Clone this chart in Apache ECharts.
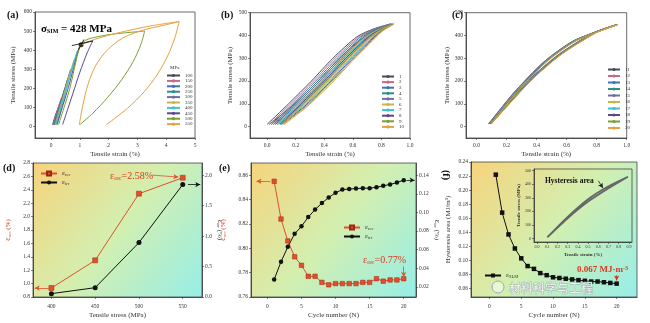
<!DOCTYPE html>
<html><head><meta charset="utf-8">
<script src="https://cdn.jsdelivr.net/npm/echarts@6/dist/echarts.min.js"></script>
<style>html,body{margin:0;padding:0;background:#fff}#c{width:650px;height:323px}</style>
</head><body><div id="c"></div><script>
// ---------- tick labels ----------
const aTicksX=[0,1,2,3,4,5];
const aTicksY=[0,100,200,300,400,500,600];
const bcTicksX=[0,0.2,0.4,0.6,0.8,1.0];
const bcTicksY=[0,100,200,300,400,500];
const dTicksX=[400,450,500,550];
const dTicksYL=[0.8,1.0,1.2,1.4,1.6,1.8,2.0,2.2,2.4,2.6,2.8];
const dTicksYR=[0,0.5,1.0,1.5,2.0];
const eTicksX=[0,5,10,15,20];
const eTicksYL=[0.76,0.78,0.80,0.82,0.84,0.86];
const eTicksYR=[0.02,0.04,0.06,0.08,0.10,0.12,0.14];
const fTicksX=[0,5,10,15,20];
const fTicksY=[0.06,0.08,0.10,0.12,0.14,0.16,0.18,0.20,0.22,0.24];
const inTicksX=[0,0.1,0.2,0.3,0.4,0.5,0.6,0.7,0.8,0.9];
const inTicksY=[0,100,200,300,400,500];

// ---------- (a) loops: [strain %, stress MPa] ----------
const aNames=['100','150','200','250','300','350','400','450','500','550'];
const a100=[[0.05,10],[0.14,55],[0.25,100],[0.16,60],[0.07,10]];
const a150=[[0.07,10],[0.22,85],[0.36,150],[0.25,100],[0.10,10]];
const a200=[[0.09,10],[0.30,110],[0.48,200],[0.33,130],[0.12,10]];
const a250=[[0.10,10],[0.35,130],[0.58,250],[0.40,160],[0.14,10]];
const a300=[[0.12,10],[0.42,160],[0.68,300],[0.48,200],[0.16,10]];
const a350=[[0.14,10],[0.48,185],[0.80,350],[0.58,240],[0.19,10]];
const a400=[[0.16,10],[0.55,210],[0.92,400],[0.70,290],[0.22,10]];
const a450=[[0.20,10],[0.60,205],[0.98,415],[1.10,435],[1.45,450],[1.25,385],[1.00,285],[0.75,170],[0.52,65],[0.40,10]];
const a500=[[0.26,10],[0.65,200],[1.00,420],[1.20,452],[1.60,470],[2.20,485],[3.25,500],[3.12,430],[2.85,340],[2.45,245],[1.95,150],[1.45,70],[1.00,10]];
const a550=[[0.98,10],[1.10,110],[1.28,220],[1.55,320],[1.95,400],[2.50,465],[3.20,505],[3.90,530],[4.45,550],[4.30,465],[4.05,370],[3.70,275],[3.25,185],[2.65,95],[1.92,10]];
const a550b=[[1.05,428],[1.50,456],[2.10,482],[2.75,505],[3.50,528],[4.45,550]];
const aSimDot=[[1.04,428]];

// ---------- (b) cycles 1-10 ----------
const bNames=['1','2','3','4','5','6','7','8','9','10'];
const b1=[[0,10],[0.15,100],[0.31,200],[0.46,300],[0.63,395],[0.75,430],[0.86,450],[0.74,418],[0.62,365],[0.49,290],[0.34,190],[0.17,88],[0.015,10]];
const b2=[[0.015,10],[0.165,100],[0.325,200],[0.475,300],[0.644,395],[0.759,430],[0.864,450],[0.749,418],[0.634,365],[0.505,290],[0.355,190],[0.185,88],[0.03,10]];
const b3=[[0.03,10],[0.18,100],[0.34,200],[0.49,300],[0.657,395],[0.768,430],[0.867,450],[0.758,418],[0.647,365],[0.52,290],[0.37,190],[0.2,88],[0.045,10]];
const b4=[[0.045,10],[0.195,100],[0.355,200],[0.505,300],[0.67,395],[0.777,430],[0.87,450],[0.767,418],[0.66,365],[0.535,290],[0.385,190],[0.215,88],[0.058,10]];
const b5=[[0.058,10],[0.208,100],[0.368,200],[0.518,300],[0.682,395],[0.785,430],[0.873,450],[0.775,418],[0.672,365],[0.548,290],[0.398,190],[0.228,88],[0.07,10]];
const b6=[[0.07,10],[0.22,100],[0.38,200],[0.53,300],[0.693,395],[0.792,430],[0.876,450],[0.782,418],[0.683,365],[0.56,290],[0.41,190],[0.24,88],[0.08,10]];
const b7=[[0.08,10],[0.23,100],[0.39,200],[0.54,300],[0.702,395],[0.798,430],[0.879,450],[0.788,418],[0.692,365],[0.57,290],[0.42,190],[0.25,88],[0.09,10]];
const b8=[[0.09,10],[0.24,100],[0.4,200],[0.55,300],[0.711,395],[0.804,430],[0.882,450],[0.794,418],[0.701,365],[0.58,290],[0.43,190],[0.26,88],[0.1,10]];
const b9=[[0.1,10],[0.25,100],[0.41,200],[0.56,300],[0.72,395],[0.81,430],[0.885,450],[0.8,418],[0.71,365],[0.59,290],[0.44,190],[0.27,88],[0.11,10]];
const b10=[[0.11,10],[0.26,100],[0.42,200],[0.57,300],[0.729,395],[0.816,430],[0.888,450],[0.806,418],[0.719,365],[0.6,290],[0.45,190],[0.28,88],[0.12,10]];

// ---------- (c) cycles 11-20 ----------
const cNames=['11','12','13','14','15','16','17','18','19','20'];
const c11=[[0.080,12],[0.25,150],[0.45,285],[0.65,378],[0.930,447],[0.78,412],[0.55,318],[0.35,205],[0.082,12]];
const c12=[[0.082,12],[0.252,150],[0.452,285],[0.652,378],[0.931,447],[0.782,412],[0.552,318],[0.352,205],[0.084,12]];
const c13=[[0.084,12],[0.254,150],[0.454,285],[0.654,378],[0.932,447],[0.784,412],[0.554,318],[0.354,205],[0.086,12]];
const c14=[[0.086,12],[0.256,150],[0.456,285],[0.656,378],[0.933,447],[0.786,412],[0.556,318],[0.356,205],[0.088,12]];
const c15=[[0.088,12],[0.258,150],[0.458,285],[0.658,378],[0.934,447],[0.788,412],[0.558,318],[0.358,205],[0.090,12]];
const c16=[[0.090,12],[0.260,150],[0.460,285],[0.660,378],[0.935,447],[0.790,412],[0.560,318],[0.360,205],[0.092,12]];
const c17=[[0.092,12],[0.262,150],[0.462,285],[0.662,378],[0.936,447],[0.792,412],[0.562,318],[0.362,205],[0.094,12]];
const c18=[[0.094,12],[0.264,150],[0.464,285],[0.664,378],[0.937,447],[0.794,412],[0.564,318],[0.364,205],[0.096,12]];
const c19=[[0.096,12],[0.266,150],[0.466,285],[0.666,378],[0.938,447],[0.796,412],[0.566,318],[0.366,205],[0.098,12]];
const c20=[[0.098,12],[0.268,150],[0.468,285],[0.668,378],[0.939,447],[0.798,412],[0.568,318],[0.368,205],[0.100,12]];

// ---------- (d) ----------
const dStress=[400,450,500,550];
const dRec=[0.934,1.347,2.342,2.58];
const dIrr=[0.055,0.153,0.893,1.846];
// ---------- (e) ----------
const eCycle=[1,2,3,4,5,6,7,8,9,10,11,12,13,14,15,16,17,18,19,20];
const eRec=[0.855,0.824,0.806,0.793,0.786,0.777,0.777,0.772,0.770,0.771,0.771,0.771,0.771,0.772,0.772,0.775,0.773,0.774,0.774,0.775];
const eIrr=[0.028,0.047,0.063,0.077,0.085,0.095,0.103,0.110,0.116,0.121,0.1245,0.125,0.1256,0.126,0.126,0.127,0.1285,0.130,0.132,0.1346];
// ---------- (f) ----------
const fCycle=[1,2,3,4,5,6,7,8,9,10,11,12,13,14,15,16,17,18,19,20];
const fArea=[0.222,0.168,0.137,0.117,0.103,0.092,0.088,0.082,0.079,0.076,0.075,0.074,0.073,0.072,0.071,0.070,0.070,0.069,0.068,0.067];
const insetLoop=[[0.10,10],[0.30,160],[0.50,290],[0.70,385],[0.89,455],[0.70,370],[0.50,272],[0.30,150],[0.10,10]];

const F='Liberation Serif';
const pal=['#4a4a5c','#c86a84','#4272b4','#2f8f80','#70709e','#c9b446','#3cc2d2','#5a4892','#78a032','#e8a040'];
const ink='#333';
const grad={type:'linear',x:0,y:0,x2:1,y2:1,colorStops:[{offset:0,color:'#f7d37c'},{offset:0.5,color:'#d3efb0'},{offset:1,color:'#96eee8'}]};
const fx1=v=>v.toFixed(1), fx2=v=>v.toFixed(2), fx0=v=>String(v);
const zip=(a,b)=>a.map((v,i)=>[v,b[i]]);

function ax(o){
  return {
    type:'value', gridIndex:o.g, min:o.min, max:o.max, position:o.pos,
    axisLine:{show:true,onZero:false,lineStyle:{color:ink,width:0.8}},
    axisTick:{show:true,customValues:o.ticks,length:2,lineStyle:{color:ink,width:0.6}},
    axisLabel:{show:true,customValues:o.ticks,formatter:o.fmt||fx0,fontSize:o.fs||5.5,fontFamily:F,color:ink,margin:o.margin==null?3:o.margin},
    splitLine:{show:false},
    name:o.name||'', nameLocation:'middle', nameGap:o.gap||10, nameRotate:o.rot,
    nameTextStyle:{fontSize:o.nfs||7,fontFamily:F,color:o.ncol||ink,fontWeight:o.nbold?'bold':'normal',
      rich:{e:{fontSize:8,fontFamily:F,color:o.ncol||ink},s:{fontSize:5,fontFamily:F,color:o.ncol||ink,verticalAlign:'bottom'},t:{fontSize:7,fontFamily:F,color:o.ncol||ink}}}
  };
}

const grids=[
  {left:35,top:12,width:160,height:126},
  {left:250,top:12.7,width:160,height:125.3},
  {left:466,top:12.7,width:160.7,height:125.3},
  {left:33,top:163,width:169,height:134},
  {left:251,top:163,width:165,height:134},
  {left:471,top:162,width:166,height:135},
  {left:534,top:169,width:98,height:73}
].map((g,i)=>Object.assign({show:true,borderColor:'#444',borderWidth:0.8,backgroundColor:(i>=3&&i<=5)?grad:'transparent'},g));

const xAxes=[
  ax({g:0,min:-0.56,max:5,ticks:aTicksX,name:'Tensile strain (%)',gap:13,margin:5}),
  ax({g:1,min:-0.12,max:1.0,ticks:bcTicksX,fmt:fx1,name:'Tensile strain (%)',gap:13,margin:5}),
  ax({g:2,min:-0.07,max:1.0,ticks:bcTicksX,fmt:fx1,name:'Tensile strain (%)',gap:13,margin:5}),
  ax({g:3,min:379,max:572,ticks:dTicksX,name:'Tensile stress (MPa)',gap:15,margin:7}),
  ax({g:4,min:-2.4,max:21.8,ticks:eTicksX,name:'Cycle number (N)',gap:15,margin:7}),
  ax({g:5,min:-2.9,max:23.2,ticks:fTicksX,name:'Cycle number (N)',gap:15,margin:7}),
  ax({g:6,min:-0.03,max:0.93,ticks:inTicksX,fmt:fx1,fs:4,name:'Tensile strain (%)',nfs:5,nbold:true,gap:10,margin:3})
];
const yAxes=[
  ax({g:0,min:-60,max:600,ticks:aTicksY,name:'Tensile stress (MPa)',gap:18}),
  ax({g:1,min:-50,max:500,ticks:bcTicksY,name:'Tensile stress (MPa)',gap:16}),
  ax({g:2,min:-50,max:500,ticks:bcTicksY,name:'Tensile stress (MPa)',gap:14}),
  ax({g:3,min:0.8,max:2.8,ticks:dTicksYL,fmt:fx1,name:'{e|ε}{s|rec}{t| (%)}',ncol:'#d04020',gap:21}),
  ax({g:3,min:0,max:2.2,ticks:dTicksYR,fmt:fx1,pos:'right',name:'{e|ε}{s|irr}{t| (%)}',rot:-90,gap:10}),
  ax({g:4,min:0.76,max:0.87,ticks:eTicksYL,fmt:fx2,name:'{e|ε}{s|rec}{t| (%)}',ncol:'#d04020',gap:24}),
  ax({g:4,min:0.0092,max:0.153,ticks:eTicksYR,fmt:fx2,pos:'right',name:'{e|ε}{s|irr}{t| (%)}',rot:-90,gap:17}),
  ax({g:5,min:0.048,max:0.24,ticks:fTicksY,fmt:fx2,name:'Hysteresis area (MJ/m³)',gap:19}),
  ax({g:6,min:-25,max:512,ticks:inTicksY,fs:4,name:'Tensile stress (MPa)',nfs:5,nbold:true,gap:9})
];

const series=[];
[a100,a150,a200,a250,a300,a350,a400,a450,a500,a550].forEach((d,i)=>series.push({type:'line',name:aNames[i],xAxisIndex:0,yAxisIndex:0,data:d,symbol:'none',smooth:0.3,color:pal[i],lineStyle:{width:1,color:pal[i]}}));
series.push({type:'line',name:'a550b',xAxisIndex:0,yAxisIndex:0,data:a550b,symbol:'none',smooth:0.3,lineStyle:{width:1,color:pal[9]}});
series.push({type:'scatter',name:'sim',xAxisIndex:0,yAxisIndex:0,data:aSimDot,symbolSize:5,itemStyle:{color:'#000'},
  markLine:{silent:true,symbol:['none','none'],lineStyle:{color:'#000',width:0.8,type:'solid'},label:{show:false},
    data:[[{coord:[0.72,424]},{coord:[1.45,448]}],[{coord:[0.95,402]},{coord:[1.14,456]}]]}});
[b1,b2,b3,b4,b5,b6,b7,b8,b9,b10].forEach((d,i)=>series.push({type:'line',name:bNames[i],xAxisIndex:1,yAxisIndex:1,data:d,symbol:'none',smooth:0.25,color:pal[i],lineStyle:{width:1,color:pal[i]}}));
[c11,c12,c13,c14,c15,c16,c17,c18,c19,c20].forEach((d,i)=>series.push({type:'line',name:cNames[i],xAxisIndex:2,yAxisIndex:2,data:d,symbol:'none',smooth:0.25,color:pal[i],lineStyle:{width:1,color:pal[i]}}));

const red='#e0502c', blk='#111';
const arrowML=(col,pairs)=>({silent:true,symbol:['none','arrow'],symbolSize:[4,5],lineStyle:{color:col,width:0.8,type:'solid'},label:{show:false},data:pairs.map(p=>[{coord:p[0]},{coord:p[1]}])});
series.push({type:'line',name:'rec_d',xAxisIndex:3,yAxisIndex:3,data:zip(dStress,dRec),symbol:'rect',symbolSize:5,color:red,lineStyle:{width:1,color:red},itemStyle:{color:red,borderColor:'#a02810',borderWidth:0.5},
  markLine:arrowML(red,[[[397,0.934],[381,0.934]],[[514,2.62],[545,2.59]]])});
series.push({type:'line',name:'irr_d',xAxisIndex:3,yAxisIndex:4,data:zip(dStress,dIrr),symbol:'circle',symbolSize:5,color:blk,lineStyle:{width:1,color:blk},itemStyle:{color:blk},
  markLine:arrowML(blk,[[[556,1.846],[570,1.846]]])});
series.push({type:'line',name:'rec_e',xAxisIndex:4,yAxisIndex:5,data:zip(eCycle,eRec),symbol:'rect',symbolSize:4.5,color:red,lineStyle:{width:1,color:red},itemStyle:{color:red,borderColor:'#a02810',borderWidth:0.5},
  markLine:arrowML(red,[[[0.4,0.855],[-1.6,0.855]],[[20,0.785],[20,0.7765]]])});
series.push({type:'line',name:'irr_e',xAxisIndex:4,yAxisIndex:6,data:zip(eCycle,eIrr),symbol:'circle',symbolSize:4.5,color:blk,lineStyle:{width:1,color:blk},itemStyle:{color:blk},
  markLine:arrowML(blk,[[[20.4,0.1346],[21.6,0.1346]]])});
series.push({type:'line',name:'area_f',xAxisIndex:5,yAxisIndex:7,data:zip(fCycle,fArea),symbol:'rect',symbolSize:4.5,color:blk,lineStyle:{width:1,color:blk},itemStyle:{color:blk},
  markLine:arrowML('#d03020',[[[20,0.079],[20,0.0715]]])});
series.push({type:'line',name:'inset',xAxisIndex:6,yAxisIndex:8,data:insetLoop,symbol:'none',smooth:0.2,lineStyle:{width:1.8,color:'#666'},
  markLine:arrowML('#222',[[[0.60,425],[0.645,372]]])});

const lgText={fontSize:5,fontFamily:F,color:ink,lineHeight:5};
const subFmt=n=>({rec_d:'{e|ε}{s|rec}',irr_d:'{e|ε}{s|irr}',rec_e:'{e|ε}{s|rec}',irr_e:'{e|ε}{s|irr}',area_f:'{e|ε}{s|SLM}'}[n]||n);
const lgRich={e:{fontSize:7,fontFamily:F,color:ink},s:{fontSize:4.5,fontFamily:F,color:ink,verticalAlign:'bottom'}};
const legends=[
  {data:aNames,left:166,top:73,orient:'vertical',itemWidth:13,itemHeight:4,itemGap:0.4,padding:0,textStyle:lgText},
  {data:bNames,left:381,top:74,orient:'vertical',itemWidth:12,itemHeight:4,itemGap:0.6,padding:0,textStyle:lgText},
  {data:cNames,left:607,top:67,orient:'vertical',itemWidth:12,itemHeight:4,itemGap:1.5,padding:0,textStyle:lgText},
  {data:['rec_d','irr_d'],left:40,top:170,orient:'vertical',itemWidth:16,itemHeight:5,itemGap:2,padding:0,formatter:subFmt,textStyle:{fontSize:7,fontFamily:F,color:ink,rich:lgRich}},
  {data:['rec_e','irr_e'],left:343,top:224,orient:'vertical',itemWidth:16,itemHeight:5,itemGap:2,padding:0,formatter:subFmt,textStyle:{fontSize:7,fontFamily:F,color:ink,rich:lgRich}},
  {data:['area_f'],left:484,top:272,orient:'vertical',itemWidth:16,itemHeight:5,itemGap:2,padding:0,formatter:subFmt,textStyle:{fontSize:7,fontFamily:F,color:ink,rich:lgRich}}
];

const T=(x,y,text,o)=>Object.assign({type:'text',x:x,y:y,z:50,style:Object.assign({text:text,fontFamily:F,fontSize:10,fontWeight:'bold',fill:'#111',align:'left',verticalAlign:'middle'},o||{})});
const graphic=[
  T(7,15,'(a)'),T(221,15,'(b)'),T(452,15,'(c)'),T(3,168,'(d)'),T(219,168,'(e)'),
  Object.assign(T(446,170,'(f)'),{rotation:-Math.PI/2}),
  T(170,68,'MPa',{fontSize:5,fontWeight:'normal',fill:ink}),
  T(41,29,'{a|σ}{b|SIM}{a| = 428 MPa}',{rich:{a:{fontSize:11,fontWeight:'bold',fontFamily:F,fill:'#000'},b:{fontSize:6,fontWeight:'bold',fontFamily:F,fill:'#000',verticalAlign:'bottom'}}}),
  T(110,176,'{a|ε}{b|rec}{a|=2.58%}',{rich:{a:{fontSize:10,fontFamily:F,fill:'#d83a20'},b:{fontSize:6,fontFamily:F,fill:'#d83a20',verticalAlign:'bottom'}}}),
  T(363,260,'{a|ε}{b|rec}{a|=0.77%}',{rich:{a:{fontSize:10,fontFamily:F,fill:'#d83a20'},b:{fontSize:6,fontFamily:F,fill:'#d83a20',verticalAlign:'bottom'}}}),
  T(577,270,'{a|0.067 MJ·m}{b|-3}',{rich:{a:{fontSize:9,fontWeight:'bold',fontFamily:F,fill:'#d83a20'},b:{fontSize:6,fontWeight:'bold',fontFamily:F,fill:'#d83a20',verticalAlign:'top'}}}),
  T(545,181,'Hysteresis area',{fontSize:7.5}),
  {type:'circle',shape:{cx:498,cy:287,r:6},z:50,style:{fill:'rgba(255,255,255,0.5)',stroke:'#9ab',lineWidth:1}},
  T(509,288,'材料科学与工程',{fontFamily:'Noto Sans CJK SC',fontSize:12,fontWeight:'normal',fill:'rgba(255,255,255,0.85)',stroke:'#9aa',lineWidth:0.8})
];

const chart=echarts.init(document.getElementById('c'),null,{renderer:'canvas'});
chart.setOption({animation:false,backgroundColor:'#fff',grid:grids,xAxis:xAxes,yAxis:yAxes,series:series,legend:legends,graphic:graphic});
</script></body></html>
